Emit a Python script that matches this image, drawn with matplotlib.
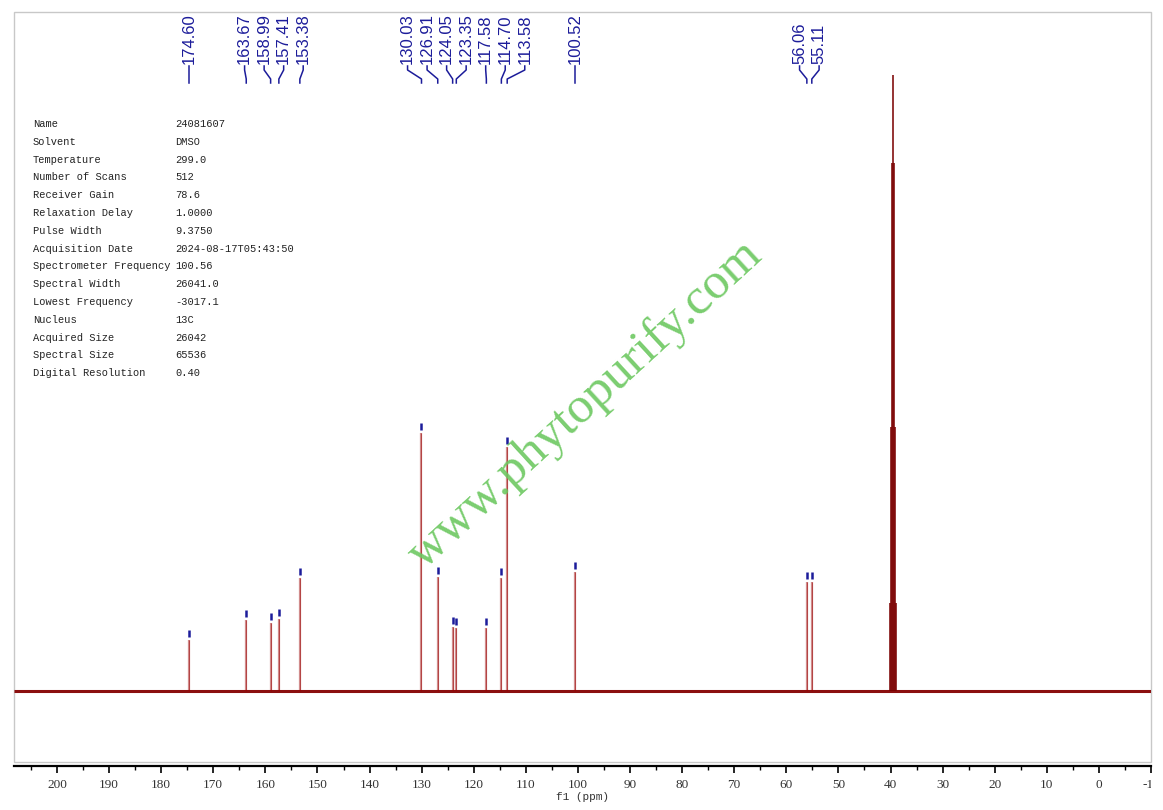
import matplotlib
matplotlib.use("Agg")
import matplotlib.pyplot as plt
from matplotlib.patches import Rectangle
from matplotlib.ticker import MultipleLocator
from matplotlib.transforms import Bbox

# 13C peaks (ppm) and their heights (arbitrary units, baseline = 0)
peak_ppm = [174.60, 163.67, 158.99, 157.41, 153.38, 130.03, 126.91, 124.05,
            123.35, 117.58, 114.70, 113.58, 100.52, 56.06, 55.11]
peak_height = [51, 71, 68, 72, 113, 258, 114, 64, 63, 63, 113, 244, 119, 109, 109]

# DMSO-d6 septet
solvent_ppm = [40.15, 39.94, 39.73, 39.52, 39.31, 39.10, 38.89]
solvent_height = [88, 264, 528, 616, 528, 264, 88]

param_names = ["Name", "Solvent", "Temperature", "Number of Scans", "Receiver Gain",
               "Relaxation Delay", "Pulse Width", "Acquisition Date",
               "Spectrometer Frequency", "Spectral Width", "Lowest Frequency",
               "Nucleus", "Acquired Size", "Spectral Size", "Digital Resolution"]
param_values = ["24081607", "DMSO", "299.0", "512", "78.6", "1.0000", "9.3750",
                "2024-08-17T05:43:50", "100.56", "26041.0", "-3017.1", "13C",
                "26042", "65536", "0.40"]

W, H = 1163, 810
LINE = "#8b0f0f"
BLUE = "#1c1c9a"


def spread_labels(pos, gap):
    # push labels apart so they don't overlap, keeping clusters centred
    groups = [[p] for p in sorted(pos, reverse=True)]
    while True:
        placed = []
        for g in groups:
            c = sum(g) / len(g)
            placed.append([c + gap * ((len(g) - 1) / 2 - i) for i in range(len(g))])
        merged = False
        for i in range(len(groups) - 1):
            if placed[i][-1] - placed[i + 1][0] < gap:
                groups[i] = groups[i] + groups[i + 1]
                del groups[i + 1]
                merged = True
                break
        if not merged:
            return [x for g in placed for x in g]


fig = plt.figure(figsize=(W / 100, H / 100), dpi=100)
ax = fig.add_axes([14 / W, (H - 762) / H, (1151 - 14) / W, 750 / H])
ax.set_xlim(208.25, -10)
ax.set_ylim(-71, 679)

ax.plot([208.25, -10], [0, 0], color=LINE, lw=2.2, solid_capstyle="butt")
ax.vlines(peak_ppm, 0, peak_height, color="#990000", lw=1.6, alpha=0.45)
ax.vlines(peak_ppm, 0, peak_height, color="#990000", lw=0.6, alpha=0.6)
ax.vlines(solvent_ppm, 0, solvent_height, color="#7a0000", lw=1.4, alpha=0.8)
ax.vlines(peak_ppm, [h + 3 for h in peak_height], [h + 10 for h in peak_height],
          color=BLUE, lw=1.8)

# axes styling
for s in ["left", "right", "top"]:
    ax.spines[s].set_visible(False)
ax.spines["bottom"].set_position(("outward", 3))
ax.spines["bottom"].set_linewidth(1.6)
ax.add_patch(Rectangle((0, 0), 1, 1, transform=ax.transAxes, fill=False,
                       edgecolor="#c8c8c8", lw=1.0, clip_on=False))
ax.set_yticks([])
ax.xaxis.set_major_locator(MultipleLocator(10))
ax.xaxis.set_minor_locator(MultipleLocator(5))
ax.tick_params(axis="x", which="major", direction="out", length=5, width=1.2,
               pad=4, labelsize=9.5, labelcolor="#333333")
ax.tick_params(axis="x", which="minor", direction="out", length=3, width=1.0)
ax.set_xticks(range(200, -11, -10))
ax.set_xticklabels([str(v) for v in range(200, -11, -10)], fontfamily="Liberation Serif")
clip = Bbox.from_extents(0, 0, 1151, H)
for lbl in ax.get_xticklabels():
    lbl.set_clip_on(True)
    lbl.set_clip_box(clip)
fig.text(583 / W, 1 - 797 / H, "f1 (ppm)", ha="center", va="center", fontsize=8,
         family="Liberation Mono", color="#333333")

# peak labels with connector lines
gap = 3.75
label_ppm = spread_labels(peak_ppm, gap)
trans = ax.get_xaxis_transform()
for lp, pp in zip(label_ppm, sorted(peak_ppm, reverse=True)):
    ax.text(lp, (762 - 64) / 750, "%.2f" % pp, rotation=90, ha="center",
            va="bottom", fontsize=12, family="Liberation Sans", color=BLUE,
            transform=trans)
    ys = [(762 - y) / 750 for y in (66, 70, 79, 83)]
    ax.plot([lp, lp, pp, pp], ys, color=BLUE, lw=1.1, transform=trans,
            clip_on=False)

# acquisition parameters
for i, (n, v) in enumerate(zip(param_names, param_values)):
    y = 1 - (124 + i * 17.8) / H
    fig.text(33 / W, y, n, ha="left", va="center", fontsize=7.5,
             family="Liberation Mono", color="#222222")
    fig.text(175 / W, y, v, ha="left", va="center", fontsize=7.5,
             family="Liberation Mono", color="#222222")

# watermark
fig.text(585 / W, 1 - 405 / H, "www.phytopurify.com", rotation=42.5,
         rotation_mode="anchor", ha="center", va="center", fontsize=37,
         family="Liberation Serif", color="#6cc860", alpha=0.9)

fig.savefig("out.png", dpi=100)
